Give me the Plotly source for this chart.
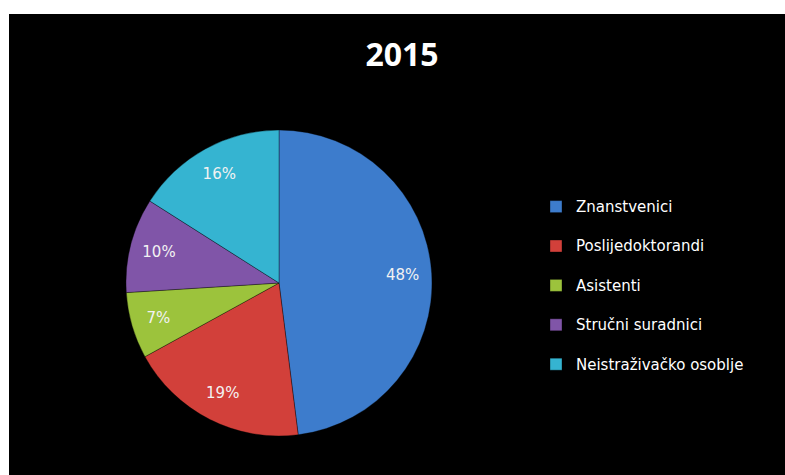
import plotly.graph_objects as go

categories = ["Znanstvenici", "Poslijedoktorandi", "Asistenti", "Stručni suradnici", "Neistraživačko osoblje"]
values = [48, 19, 7, 10, 16]
colors = ["#3d7ccc", "#d2403a", "#9cc33c", "#8055a8", "#35b4d1"]
title_text = "2015"

W, H = 785, 475

legend_labels = [f"<span style='font-size:15px'>{c}</span><br> " for c in categories]

pie_domain = dict(x=[126 / W, 432 / W], y=[1 - 436 / H, 1 - 130 / H])

fig = go.Figure()
fig.add_trace(go.Pie(
    labels=legend_labels,
    values=values,
    sort=False,
    direction="clockwise",
    rotation=0,
    marker=dict(colors=colors, line=dict(color="rgba(0,0,0,0.35)", width=1)),
    textinfo="none",
    domain=pie_domain,
    showlegend=True,
    hoverinfo="skip",
))
fig.add_trace(go.Pie(
    labels=legend_labels,
    values=values,
    sort=False,
    direction="clockwise",
    rotation=0,
    hole=0.62,
    marker=dict(colors=["rgba(0,0,0,0)"] * len(values), line=dict(width=0)),
    textinfo="percent",
    texttemplate="%{percent:.0%}",
    textposition="inside",
    insidetextorientation="horizontal",
    textfont=dict(family="DejaVu Sans", size=15, color="#f2f2f2"),
    domain=pie_domain,
    showlegend=False,
    hoverinfo="skip",
))

fig.update_layout(
    width=W, height=H,
    margin=dict(l=0, r=0, t=0, b=0),
    paper_bgcolor="white",
    plot_bgcolor="white",
    shapes=[dict(type="rect", xref="paper", yref="paper",
                 x0=9 / W, x1=1.01, y0=-0.01, y1=1 - 14 / H,
                 fillcolor="black", line=dict(width=0), layer="below")],
    title=dict(text=title_text, x=402 / W, xanchor="center", y=1 - 55 / H, yanchor="middle",
               font=dict(family="Open Sans", size=32, color="white", weight="bold")),
    legend=dict(x=536 / W, xanchor="left", y=1 - 191 / H, yanchor="top",
                font=dict(family="DejaVu Sans", size=14, color="white"),
                valign="top", bgcolor="rgba(0,0,0,0)", traceorder="normal"),
)

fig.write_html("out.html",
               config={"displayModeBar": False},
               post_script="document.body.style.margin='0';document.body.style.overflow='hidden';")
